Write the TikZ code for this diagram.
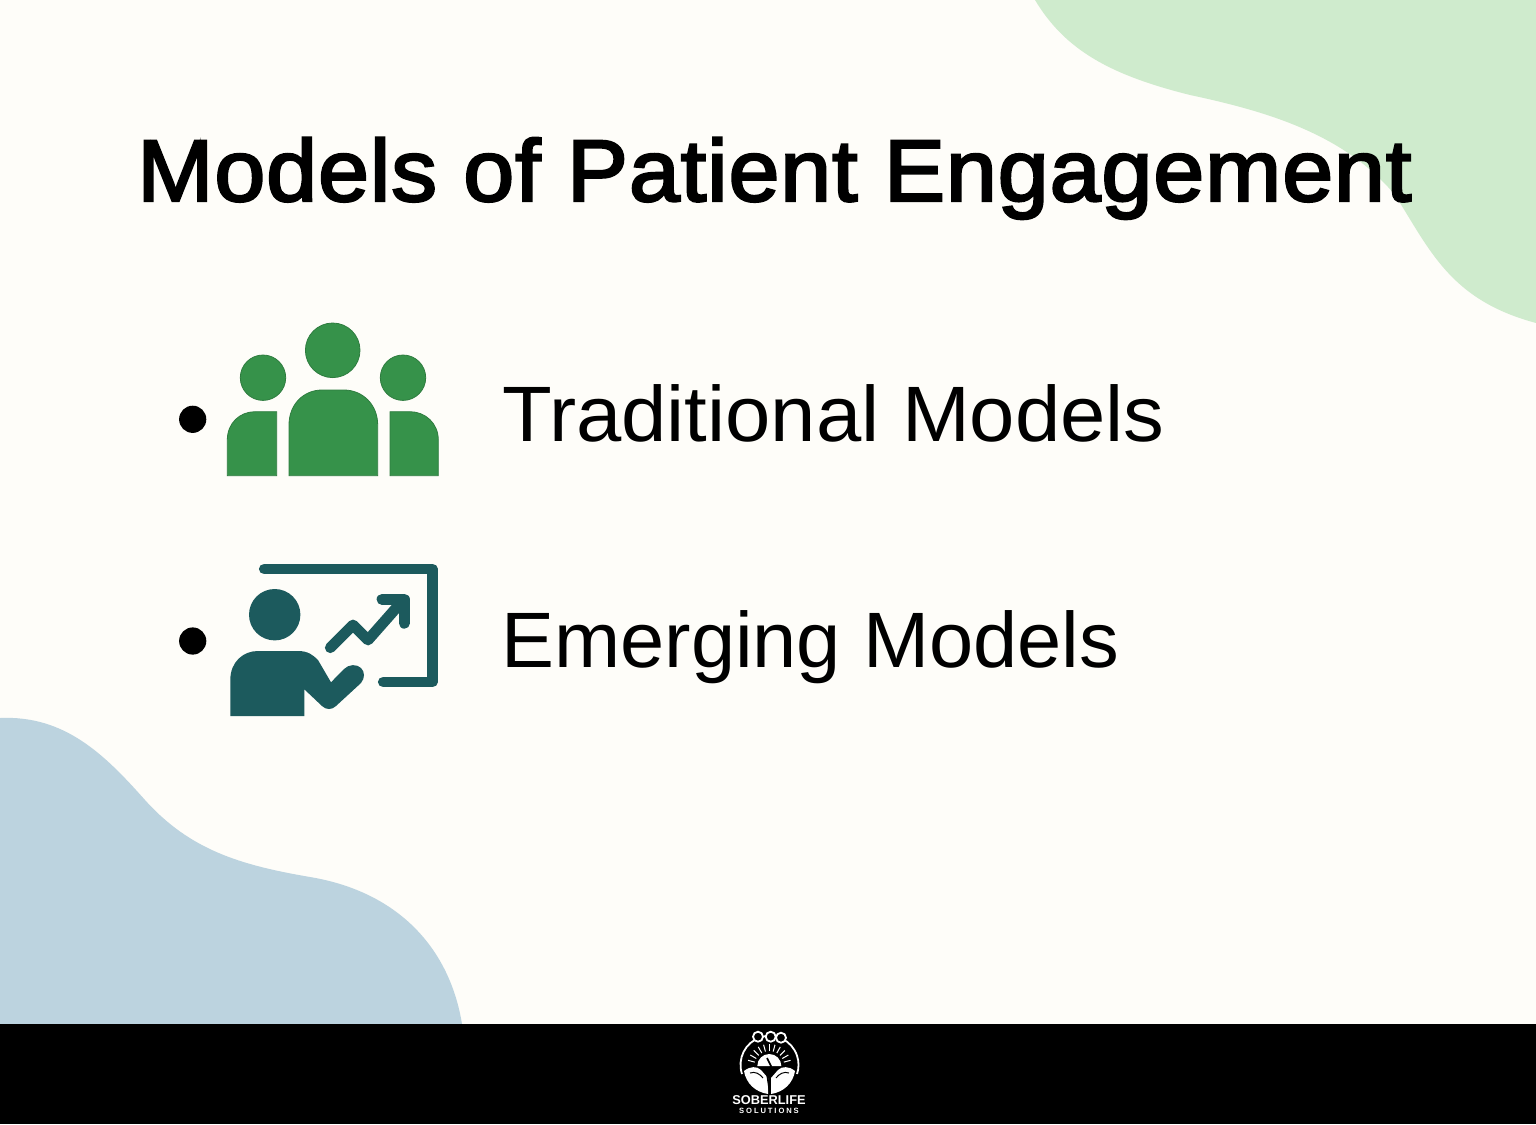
\documentclass[tikz,border=0pt]{standalone}
\usepackage{fontspec}
\setmainfont{Liberation Sans}
\newfontfamily\titlefont[FakeBold=2.8,FakeStretch=1.045,LetterSpace=1.2]{Liberation Sans}
\newfontfamily\itemafont[FakeStretch=1.036]{Liberation Sans}
\newfontfamily\itembfont[FakeStretch=1.01]{Liberation Sans}
\newfontfamily\spacedfont[LetterSpace=25]{Liberation Sans}
\definecolor{paper}{HTML}{FEFDF9}
\definecolor{leafblob}{HTML}{CFEBCD}
\definecolor{skyblob}{HTML}{BCD3DF}
\definecolor{peoplegreen}{HTML}{36924A}
\definecolor{boardteal}{HTML}{1C5A5D}
\begin{document}
\begin{tikzpicture}
[x=0.5pt,y=-0.5pt,
  titledecorate/.style={anchor=base west,inner sep=0pt,font=\fontsize{43.7}{44}\titlefont},%
  itemdecorate/.style={anchor=base west,inner sep=0pt},%
  bulletdecorate/.style={shape=circle,inner sep=0pt,minimum size=13.6pt,fill=black},%
  peopledecorate/.style={fill=peoplegreen,draw=peoplegreen!85!black,line width=0.4pt},%
  boarddecorate/.style={draw=boardteal,line cap=round,line join=round,line width=5.4pt},%
  logodecorate/.style={draw=white,line width=0.9pt}]
\useasboundingbox (0,0) rectangle (1536,1124);
% background and blobs
\fill[paper] (0,0) rectangle (1536,1124);
\fill[leafblob] (1035,0) .. controls (1065,50) and (1110,75) .. (1190,95)
  .. controls (1270,112) and (1345,135) .. (1395,195)
  .. controls (1430,250) and (1450,300) .. (1536,323) -- (1536,0) -- cycle;
\fill[skyblob] (0,718) .. controls (65,715) and (105,755) .. (145,800)
  .. controls (190,850) and (240,865) .. (310,877)
  .. controls (400,892) and (450,950) .. (462,1024) -- (0,1024) -- cycle;
\fill[black] (0,1024) rectangle (1536,1124);
% title and items
\node (title) at (137,201) [titledecorate] {Models of Patient Engagement};
\node (bulleta) at (192.7,419.3) [bulletdecorate] {};
\node (traditional) at (502,441) [itemdecorate,font=\fontsize{39.3}{40}\itemafont] {Traditional Models};
\node (bulletb) at (192.7,641) [bulletdecorate] {};
\node (emerging) at (501,667.3) [itemdecorate,font=\fontsize{39.3}{40}\itembfont] {Emerging Models};
% people icon
\path[peopledecorate] (332.7,350.3) circle (27.3);
\path[peopledecorate] (263,377.7) circle (22.7);
\path[peopledecorate] (403,377.7) circle (22.7);
\path[peopledecorate] (289,475.7) -- (289,425) .. controls (289,404) and (304,390) .. (322,390)
  -- (344,390) .. controls (362,390) and (377.7,404) .. (377.7,425) -- (377.7,475.7) -- cycle;
\path[peopledecorate] (227.3,475.7) -- (227.3,440) .. controls (227.3,423) and (240,411.7) .. (255,411.7)
  -- (276.7,411.7) -- (276.7,475.7) -- cycle;
\path[peopledecorate] (438.3,475.7) -- (438.3,440) .. controls (438.3,423) and (425,411.7) .. (410,411.7)
  -- (390,411.7) -- (390,475.7) -- cycle;
% presenter icon
\draw[boarddecorate] (264.3,569) -- (432.3,569) -- (432.3,682) -- (383.3,682);
\draw[boarddecorate] (330.3,647.7) -- (353,625) -- (368,640) -- (403.3,600);
\draw[boarddecorate] (382,599.3) -- (404.3,599.3) -- (404.3,623.3);
\fill[boardteal] (274.7,614.7) circle (25.7);
\fill[boardteal] (230.3,716) -- (230.3,680) .. controls (230.3,662) and (243,651) .. (258,651)
  -- (298,651) .. controls (308,651) and (313,655) .. (318,660) -- (331,682.3) -- (344,669)
  .. controls (349,664) and (357,664) .. (361,668) .. controls (365,672) and (365,678) .. (361,683)
  -- (336,706) .. controls (332,710) and (326,710) .. (322,706) -- (304.3,689.3) -- (304.3,716) -- cycle;
% logo
\draw[logodecorate] (742,1074) arc[start angle=161.6,end angle=378.4,radius=29];
\foreach \ringx/\ringy in {758/1036.7,770.7/1036.7,781/1037.7}
  \filldraw[draw=white,fill=black,line width=0.9pt] (\ringx,\ringy) circle (5);
\fill[white] (757.3,1066) arc[start angle=180,end angle=360,radius=12] -- cycle;
\foreach \rayangle in {195,210,...,345}
  \draw[white,line width=0.5pt] (769.3,1066) ++(\rayangle:15) -- ++(\rayangle:7);
\fill[white] (744,1071) .. controls (750,1066) and (757,1066) .. (761,1070) -- (768,1078) -- (768,1094)
  .. controls (755,1092) and (746,1083) .. (744,1071) -- cycle;
\fill[white] (795,1071) .. controls (789,1066) and (782,1066) .. (778,1070) -- (771,1078) -- (771,1094)
  .. controls (784,1092) and (793,1083) .. (795,1071) -- cycle;
\draw[black,line width=0.8pt] (767,1058) -- (771,1066) -- (767,1074) -- (770,1094);
\draw[black,line width=0.5pt] (750,1073) .. controls (755,1071) and (760,1074) .. (763,1078);
\draw[black,line width=0.5pt] (789,1073) .. controls (784,1071) and (779,1074) .. (776,1078);
\node (logoname) at (769,1100) [text=white,inner sep=0pt,font=\fontsize{6.4}{6.4}\selectfont\bfseries] {SOBERLIFE};
\node (logosub) at (769,1110.7) [text=white,inner sep=0pt,font=\fontsize{3.8}{3.8}\spacedfont\bfseries] {SOLUTIONS};
\end{tikzpicture}
\end{document}
